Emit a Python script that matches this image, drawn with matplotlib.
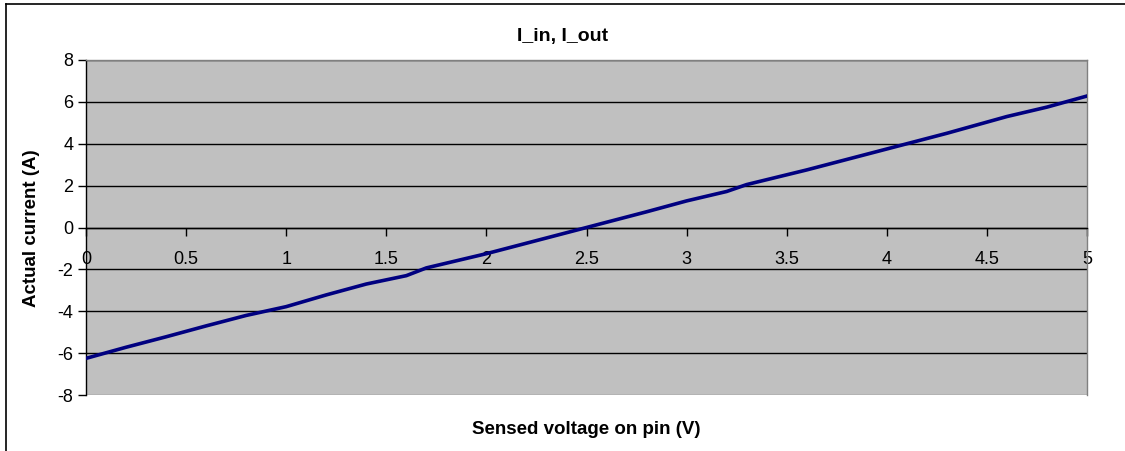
import matplotlib.pyplot as plt
from matplotlib.lines import Line2D

plt.rcParams['font.family'] = ['Liberation Sans', 'DejaVu Sans']
plt.rcParams['axes.unicode_minus'] = False

# Sensed voltage on pin (V) vs actual current (A)
voltage = [0, 0.2, 0.4, 0.6, 0.8, 1.0, 1.2, 1.4, 1.6, 1.7, 2.0, 2.2, 2.5,
           2.8, 3.0, 3.2, 3.3, 3.6, 4.0, 4.3, 4.6, 4.8, 5.0]
current = [-6.25, -5.72, -5.22, -4.7, -4.2, -3.78, -3.22, -2.7, -2.3, -1.93,
           -1.25, -0.75, 0.0, 0.75, 1.27, 1.72, 2.05, 2.75, 3.75, 4.5, 5.3,
           5.75, 6.28]
xticks = [0, 0.5, 1, 1.5, 2, 2.5, 3, 3.5, 4, 4.5, 5]
xticklabels = ['0', '0.5', '1', '1.5', '2', '2.5', '3', '3.5', '4', '4.5', '5']
yticks = [-8, -6, -4, -2, 0, 2, 4, 6, 8]

W, H = 1125, 451
fig = plt.figure(figsize=(W / 100, H / 100), dpi=100)
ax = fig.add_axes([86 / W, 1 - 395 / H, (1087 - 86) / W, (395 - 60) / H])
ax.set_facecolor('#c0c0c0')

# outer chart frame (only left and top edges are visible)
fig.lines.append(Line2D([6 / W, 6 / W], [0, 1 - 4 / H], transform=fig.transFigure,
                        color='black', linewidth=1.2))
fig.lines.append(Line2D([6 / W, 1], [1 - 4 / H, 1 - 4 / H], transform=fig.transFigure,
                        color='black', linewidth=1.2))

for yv in yticks:
    ax.axhline(yv, color='black' if yv != -8 else '#808080', linewidth=1.0, zorder=1)

ax.plot(voltage, current, color='#000080', linewidth=2.6, zorder=3)

ax.set_xlim(0, 5)
ax.set_ylim(-8, 8)
ax.set_xticks(xticks)
ax.set_xticklabels(xticklabels)
ax.set_yticks(yticks)

ax.spines['bottom'].set_position(('data', 0))
ax.spines['bottom'].set_color('black')
ax.spines['left'].set_color('black')
ax.spines['top'].set_color('#808080')
ax.spines['right'].set_color('#808080')
for s in ax.spines.values():
    s.set_linewidth(1.0)

ax.tick_params(axis='x', direction='out', length=6, width=1, pad=11, labelsize=13)
ax.tick_params(axis='y', direction='out', length=6, width=1, pad=3, labelsize=13)

fig.text(0.5, 1 - 37 / H, 'I_in, I_out', ha='center', va='center',
         fontsize=14, fontweight='bold')
fig.text(586 / W, 1 - 430 / H, 'Sensed voltage on pin (V)', ha='center', va='center',
         fontsize=13.5, fontweight='bold')
fig.text(32 / W, 1 - 228 / H, 'Actual current (A)', ha='center', va='center',
         rotation=90, fontsize=13.5, fontweight='bold')

fig.savefig('out.png', dpi=100)
